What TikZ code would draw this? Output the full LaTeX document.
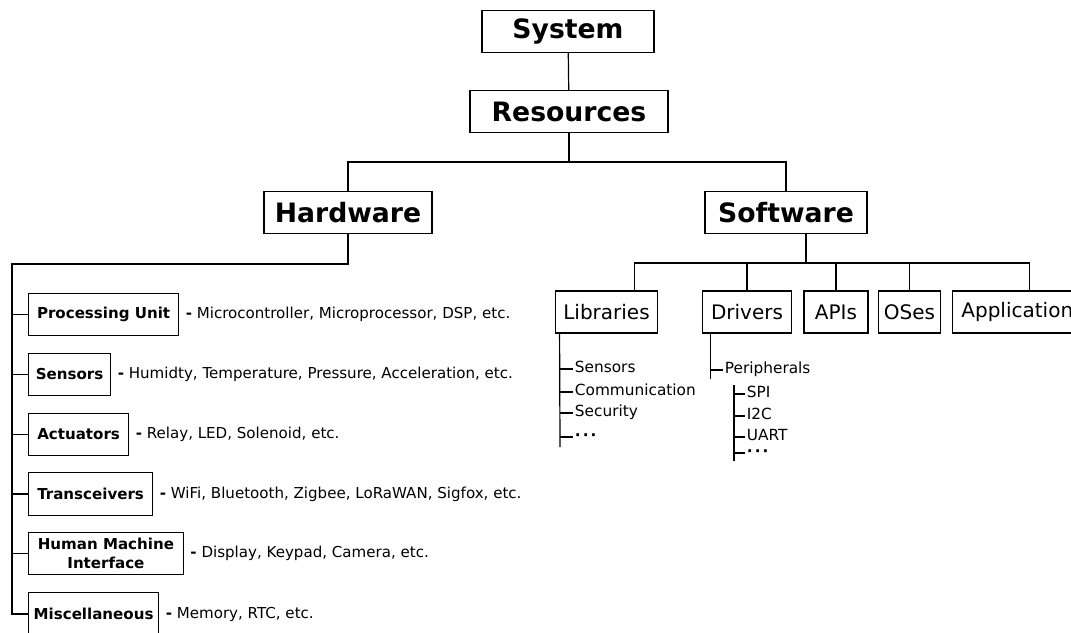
\documentclass[tikz,border=0pt]{standalone}
\usepackage{fontspec}
\setmainfont{DejaVu Sans}
\usetikzlibrary{positioning,calc}
\begin{document}
\begin{tikzpicture}[x=0.75pt, y=-0.75pt, line width=0.9pt,
    top/.style = {draw, font=\fontsize{20}{24}\selectfont\bfseries, minimum height=31pt, inner sep=0pt},
    hwbox/.style = {draw, anchor=west, font=\fontsize{11.3}{13.8}\selectfont\bfseries, minimum height=32pt, inner xsep=1pt, align=center},
    desc/.style = {font=\fontsize{11.3}{13}\selectfont, inner sep=0pt, right=4.5pt of #1},
    swbox/.style = {draw, font=\fontsize{15}{18}\selectfont, minimum height=31.5pt, inner sep=0pt},
    item/.style = {anchor=west, font=\fontsize{11.5}{13}\selectfont, inner sep=1pt, text height=0.75em, text depth=0.2em}]
            \useasboundingbox (0,0) rectangle (1071,632);

            \node[top, minimum width=129pt] (sys) at (568,31.5) {System};
            \node[top, minimum width=148.5pt] (res) at (569,111.5) {Resources};
            \node[top, minimum width=126pt] (hw) at (348,212.5) {Hardware};
            \node[top, minimum width=121.5pt] (sw) at (786,212.5) {Software};
            \coordinate (resbus) at (569,162);
            \draw (sys) -- (res);
            \draw (res.south) -- (resbus);
            \draw (hw.north) |- (sw.north |- resbus) -- (sw.north);

            \node[hwbox, minimum width=112.5pt] (pu) at (28,314.5) {Processing Unit};
            \node[hwbox, minimum width=61.5pt] (sen) at (28,374.5) {Sensors};
            \node[hwbox, minimum width=75pt] (act) at (28,434.5) {Actuators};
            \node[hwbox, minimum width=93pt] (trx) at (28,494) {Transceivers};
            \node[hwbox, minimum width=116pt] (hmi) at (28,553.5) {Human Machine\\Interface};
            \node[hwbox, minimum width=97.5pt] (misc) at (28,614) {Miscellaneous};
            \node[desc=pu] {{\bfseries -} Microcontroller, Microprocessor, DSP, etc.};
            \node[desc=sen] {{\bfseries -} Humidty, Temperature, Pressure, Acceleration, etc.};
            \node[desc=act] {{\bfseries -} Relay, LED, Solenoid, etc.};
            \node[desc=trx] {{\bfseries -} WiFi, Bluetooth, Zigbee, LoRaWAN, Sigfox, etc.};
            \node[desc=hmi] {{\bfseries -} Display, Keypad, Camera, etc.};
            \node[desc=misc] {{\bfseries -} Memory, RTC, etc.};
            \coordinate (hwbus) at (12,264);
            \draw (hw.south) |- (hwbus) |- (misc.west);
            \foreach \n in {pu,sen,act,trx,hmi}
                \draw (\n.west -| hwbus) -- (\n.west);

            \node[swbox, minimum width=77pt] (lib) at (606.5,312) {Libraries};
            \node[swbox, minimum width=67pt] (drv) at (747,312) {Drivers};
            \node[swbox, minimum width=48pt] (api) at (836,312) {APIs};
            \node[swbox, minimum width=47pt] (os) at (909.5,312) {OSes};
            \node[swbox, minimum width=97pt, anchor=west] (app) at (952,312) {Application};
            \coordinate (swbus) at (806,263);
            \coordinate (libtap) at ($(lib.north)+(28,0)$);
            \coordinate (apptap) at ($(app.north)+(12,0)$);
            \draw (sw.south -| swbus) -- (swbus);
            \draw (libtap) |- (apptap |- swbus) -- (apptap);
            \foreach \n in {drv,api,os}
                \draw (\n.north) -- (\n.north |- swbus);

            \coordinate (libline) at ($(lib.south west)+(5,0)$);
            \coordinate (libend) at (560,447);
            \node[item] (lsen) at (573,369) {Sensors};
            \node[item] (lcom) at (573,392) {Communication};
            \node[item] (lsec) at (573,413) {Security};
            \node[item] (ldots) at (573,437) {\bfseries ·\kern1.5pt·\kern1.5pt·};
            \draw (libline) -- (libend);
            \foreach \n in {lsen,lcom,lsec,ldots}
                \draw (\n.west -| libline) -- (\n.west);

            \coordinate (drvline) at ($(drv.south west)+(9,0)$);
            \node[item] (per) at (723,370) {Peripherals};
            \draw (drvline) -- ($(per.west -| drvline)+(0,9)$);
            \draw (per.west -| drvline) -- (per.west);
            \coordinate (pertop) at (734,385);
            \coordinate (perend) at (734,461);
            \node[item] (spi) at (745,394) {SPI};
            \node[item] (i2c) at (745,416) {I2C};
            \node[item] (uart) at (745,437) {UART};
            \node[item] (pdots) at (745,453) {\bfseries ·\kern1.5pt·\kern1.5pt·};
            \draw (pertop) -- (perend);
            \foreach \n in {spi,i2c,uart,pdots}
                \draw (\n.west -| pertop) -- (\n.west);
\end{tikzpicture}
\end{document}
